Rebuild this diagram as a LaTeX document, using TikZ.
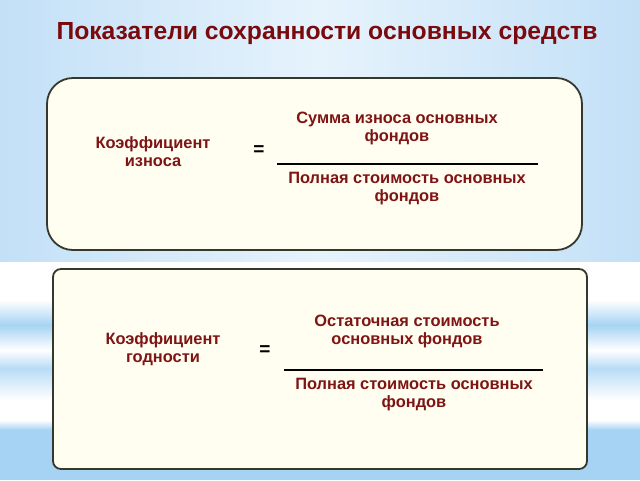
\documentclass[tikz,border=0pt]{standalone}
\usepackage{fontspec}
\setmainfont{Liberation Sans}
\begin{document}
\begin{tikzpicture}[x=1pt,y=-1pt,
  boxtxt/.style={text=txtred,font=\bfseries\fontsize{16.4}{18}\selectfont,align=center,inner sep=0pt},
  eqtxt/.style={text=black,font=\bfseries\fontsize{19}{20}\selectfont,inner sep=0pt},
  card/.style={draw=boxline,line width=1.8pt,fill=cream},
  fracline/.style={draw=black,line width=1.6pt}]
\definecolor{txtred}{HTML}{7E1414}
\definecolor{titred}{HTML}{7A0A0E}
\definecolor{boxline}{HTML}{35382C}
\definecolor{cream}{HTML}{FFFEF0}
\definecolor{skyA}{HTML}{C3E0F7}
\definecolor{skyB}{HTML}{E6F3FC}
\definecolor{skyC}{HTML}{A6D3F3}
\useasboundingbox (0,0) rectangle (640,480);
% background upper
\shade[left color=skyA,right color=skyB] (0,0) rectangle (320,262);
\shade[left color=skyB,right color=skyA] (320,0) rectangle (640,262);
% background lower
\fill[white] (0,262) rectangle (640,480);
\shade[top color=white,bottom color=skyC] (0,300) rectangle (640,325);
\shade[top color=skyC,bottom color=white] (0,325) rectangle (640,350);
\shade[top color=white,bottom color=skyC!80] (0,350) rectangle (640,368);
\shade[top color=skyC!80,bottom color=white] (0,368) rectangle (640,400);
\fill[white] (0,400) rectangle (640,420);
\shade[top color=white,bottom color=skyC] (0,420) rectangle (640,430);
\fill[skyC] (0,430) rectangle (640,480);
% title
\node[text=titred,font=\bfseries\fontsize{24.7}{28}\selectfont,inner sep=0pt] (title) at (327,34) {Показатели сохранности основных средств};
% top card
\node[card,rounded corners=26pt,minimum width=535pt,minimum height=172pt,inner sep=0pt] (card1) at (314.5,164) {};
\node[boxtxt] (k1) at (153,152) {Коэффициент\\износа};
\node[eqtxt] (eq1) at (259,151) {=};
\node[boxtxt] (n1) at (397,128.5) {Сумма износа основных\\фондов};
\node[boxtxt] (d1) at (407,189) {Полная стоимость основных\\фондов};
\coordinate (l1a) at (277,164);
\coordinate (l1b) at (538,164);
\draw[fracline] (l1a) -- (l1b);
% bottom card
\node[card,rounded corners=8pt,minimum width=534pt,minimum height=200pt,inner sep=0pt] (card2) at (320,369) {};
\node[boxtxt] (k2) at (163,349) {Коэффициент\\годности};
\node[eqtxt] (eq2) at (265,351) {=};
\node[boxtxt] (n2) at (407,331.5) {Остаточная стоимость\\основных фондов};
\node[boxtxt] (d2) at (414,395) {Полная стоимость основных\\фондов};
\coordinate (l2a) at (284,370);
\coordinate (l2b) at (543,370);
\draw[fracline] (l2a) -- (l2b);
\end{tikzpicture}
\end{document}
